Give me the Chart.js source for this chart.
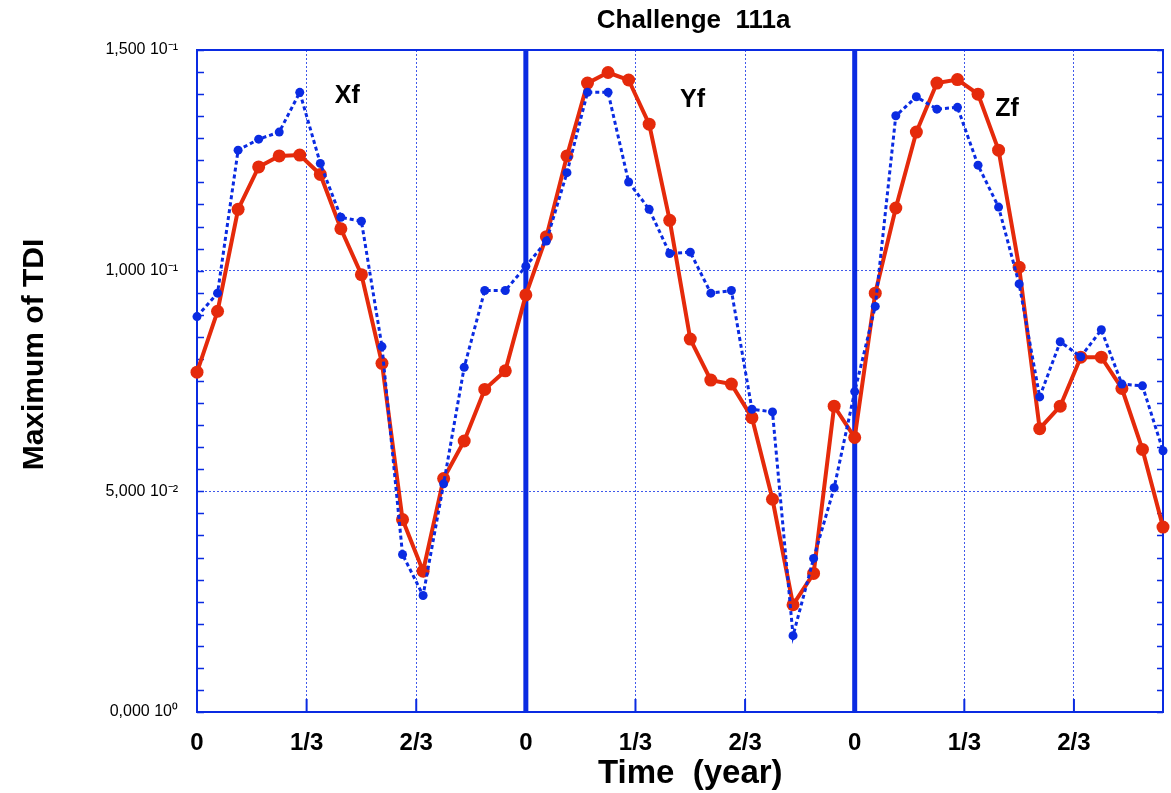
<!DOCTYPE html>
<html>
<head>
<meta charset="utf-8">
<title>Challenge 111a</title>
<script src="https://cdn.jsdelivr.net/npm/chart.js@4.4.1/dist/chart.umd.min.js"></script>
<style>
  html, body { margin: 0; padding: 0; background: #ffffff; }
  #tdi-chart { display: block; }
</style>
</head>
<body>
<canvas id="tdi-chart" width="1171" height="793"></canvas>
<script>
// time of each sample, in years (3 successive years, 16 samples each)
const times = [
  0.0000, 0.0625, 0.1250, 0.1875, 0.2500, 0.3125, 0.3750, 0.4375,
  0.5000, 0.5625, 0.6250, 0.6875, 0.7500, 0.8125, 0.8750, 0.9375,
  1.0000, 1.0625, 1.1250, 1.1875, 1.2500, 1.3125, 1.3750, 1.4375,
  1.5000, 1.5625, 1.6250, 1.6875, 1.7500, 1.8125, 1.8750, 1.9375,
  2.0000, 2.0625, 2.1250, 2.1875, 2.2500, 2.3125, 2.3750, 2.4375,
  2.5000, 2.5625, 2.6250, 2.6875, 2.7500, 2.8125, 2.8750, 2.9375
];

// red solid curve
const tdiSolid = [
  0.0770, 0.0908, 0.1139, 0.1235, 0.1260, 0.1262, 0.1218, 0.1095,
  0.0991, 0.0790, 0.0436, 0.0319, 0.0529, 0.0614, 0.0731, 0.0773,
  0.0945, 0.1077, 0.1260, 0.1425, 0.1449, 0.1432, 0.1332, 0.1114,
  0.0845, 0.0752, 0.0743, 0.0667, 0.0482, 0.0243, 0.0314, 0.0693,
  0.0622, 0.0949, 0.1142, 0.1314, 0.1425, 0.1433, 0.1400, 0.1273,
  0.1008, 0.0642, 0.0693, 0.0804, 0.0804, 0.0733, 0.0595, 0.0419
];

// blue dotted curve
const tdiDotted = [
  0.0896, 0.0949, 0.1273, 0.1298, 0.1314, 0.1404, 0.1243, 0.1121,
  0.1112, 0.0828, 0.0357, 0.0264, 0.0517, 0.0781, 0.0955, 0.0955,
  0.1010, 0.1067, 0.1222, 0.1404, 0.1404, 0.1201, 0.1139, 0.1039,
  0.1042, 0.0949, 0.0955, 0.0686, 0.0680, 0.0173, 0.0348, 0.0508,
  0.0726, 0.0919, 0.1351, 0.1394, 0.1366, 0.1370, 0.1239, 0.1144,
  0.0970, 0.0714, 0.0839, 0.0805, 0.0866, 0.0743, 0.0739, 0.0592
];

const xTickValues = [0, 1 / 3, 2 / 3, 1, 4 / 3, 5 / 3, 2, 7 / 3, 8 / 3];
const xTickLabels = ["0", "1/3", "2/3", "0", "1/3", "2/3", "0", "1/3", "2/3"];
const yearStarts = [1, 2];

const yTickValues = [0, 0.05, 0.1, 0.15];
const yTickLabels = ["0,000 10\u2070", "5,000 10\u207B\u00B2", "1,000 10\u207B\u00B9", "1,500 10\u207B\u00B9"];
const yMinorStep = 0.005;

const panelNames = ["Xf", "Yf", "Zf"];
const panelNameX = [0.457, 1.507, 2.463];
const panelNameY = [0.1396, 0.1387, 0.1367];

const chartTitle = "Challenge  111a";
const xTitle = "Time  (year)";
const yTitle = "Maximum of TDI";

const RED = "#e52a0b";
const BLUE = "#0a2be2";
const GRID_BLUE = "rgba(30, 60, 230, 0.85)";
const FONT = "'Liberation Sans', Arial, Helvetica, sans-serif";

function toPoints(values) {
  return values.map((v, i) => ({ x: times[i], y: v }));
}

// box, inward tick marks, thick year separators and the texts
const framePlugin = {
  id: "frame",
  beforeDatasetsDraw(chart) {
    const { ctx, chartArea: a, scales: { x, y } } = chart;
    ctx.save();
    ctx.strokeStyle = BLUE;

    ctx.lineWidth = 1.5;
    for (let v = 0; v <= 0.15 + 1e-9; v += yMinorStep) {
      const py = Math.round(y.getPixelForValue(v)) + 0.5;
      ctx.beginPath();
      ctx.moveTo(a.left, py);
      ctx.lineTo(a.left + 7, py);
      ctx.moveTo(a.right, py);
      ctx.lineTo(a.right - 6, py);
      ctx.stroke();
    }

    ctx.lineWidth = 2;
    xTickValues.forEach(v => {
      const px = x.getPixelForValue(v);
      ctx.beginPath();
      ctx.moveTo(px, a.bottom);
      ctx.lineTo(px, a.bottom - 13);
      ctx.stroke();
    });

    ctx.lineWidth = 2;
    ctx.strokeRect(a.left, a.top, a.right - a.left, a.bottom - a.top);

    ctx.lineWidth = 5;
    yearStarts.forEach(v => {
      const px = x.getPixelForValue(v);
      ctx.beginPath();
      ctx.moveTo(px, a.top);
      ctx.lineTo(px, a.bottom);
      ctx.stroke();
    });
    ctx.restore();
  },
  afterDraw(chart) {
    const { ctx, chartArea: a, scales: { x, y } } = chart;
    ctx.save();
    ctx.fillStyle = "#000";
    ctx.textAlign = "center";
    ctx.textBaseline = "middle";

    ctx.font = "bold 25px " + FONT;
    panelNames.forEach((name, i) => {
      ctx.fillText(name, x.getPixelForValue(panelNameX[i]), y.getPixelForValue(panelNameY[i]));
    });

    ctx.font = "bold 26px " + FONT;
    ctx.fillText(chartTitle, x.getPixelForValue(1.51), a.top - 29);

    ctx.font = "bold 33px " + FONT;
    ctx.fillText(xTitle, x.getPixelForValue(1.5), a.bottom + 62);

    ctx.font = "bold 30px " + FONT;
    ctx.translate(35, y.getPixelForValue(0.081));
    ctx.rotate(-Math.PI / 2);
    ctx.fillText(yTitle, 0, 0);
    ctx.restore();
  }
};

new Chart(document.getElementById("tdi-chart").getContext("2d"), {
  type: "line",
  data: {
    datasets: [
      {
        label: "dotted",
        data: toPoints(tdiDotted),
        borderColor: BLUE,
        backgroundColor: BLUE,
        borderWidth: 3,
        borderDash: [4, 3],
        pointRadius: 4.5,
        pointBorderWidth: 0,
        pointBackgroundColor: BLUE,
        tension: 0,
        clip: false
      },
      {
        label: "solid",
        data: toPoints(tdiSolid),
        borderColor: RED,
        backgroundColor: RED,
        borderWidth: 4,
        pointRadius: 6.5,
        pointBorderWidth: 0,
        pointBackgroundColor: RED,
        tension: 0,
        clip: false
      }
    ]
  },
  options: {
    responsive: false,
    animation: false,
    devicePixelRatio: 1,
    layout: { padding: { left: 0, right: 8, top: 50, bottom: 0 } },
    plugins: {
      legend: { display: false },
      tooltip: { enabled: false },
      title: { display: false }
    },
    scales: {
      x: {
        type: "linear",
        min: 0,
        max: 2.9375,
        afterBuildTicks: scale => { scale.ticks = xTickValues.map(v => ({ value: v })); },
        afterFit: scale => { scale.height = 81; },
        ticks: {
          autoSkip: false,
          maxRotation: 0,
          padding: 17,
          color: "#000",
          font: { family: FONT, size: 24, weight: "bold" },
          callback: (value, index) => xTickLabels[index]
        },
        grid: {
          drawTicks: false,
          lineWidth: 1,
          color: c => (c.tick && Math.abs(c.tick.value - Math.round(c.tick.value)) < 1e-6) ? "transparent" : GRID_BLUE
        },
        border: { display: false, dash: [2, 2] }
      },
      y: {
        min: 0,
        max: 0.15,
        afterBuildTicks: scale => { scale.ticks = yTickValues.map(v => ({ value: v })); },
        afterFit: scale => { scale.width = 197; },
        ticks: {
          padding: 19,
          color: "#000",
          font: { family: FONT, size: 16 },
          callback: (value, index) => yTickLabels[index]
        },
        grid: {
          drawTicks: false,
          lineWidth: 1,
          color: c => (c.tick && c.tick.value > 0.001 && c.tick.value < 0.149) ? GRID_BLUE : "transparent"
        },
        border: { display: false, dash: [2, 2] }
      }
    }
  },
  plugins: [framePlugin]
});
</script>
</body>
</html>
